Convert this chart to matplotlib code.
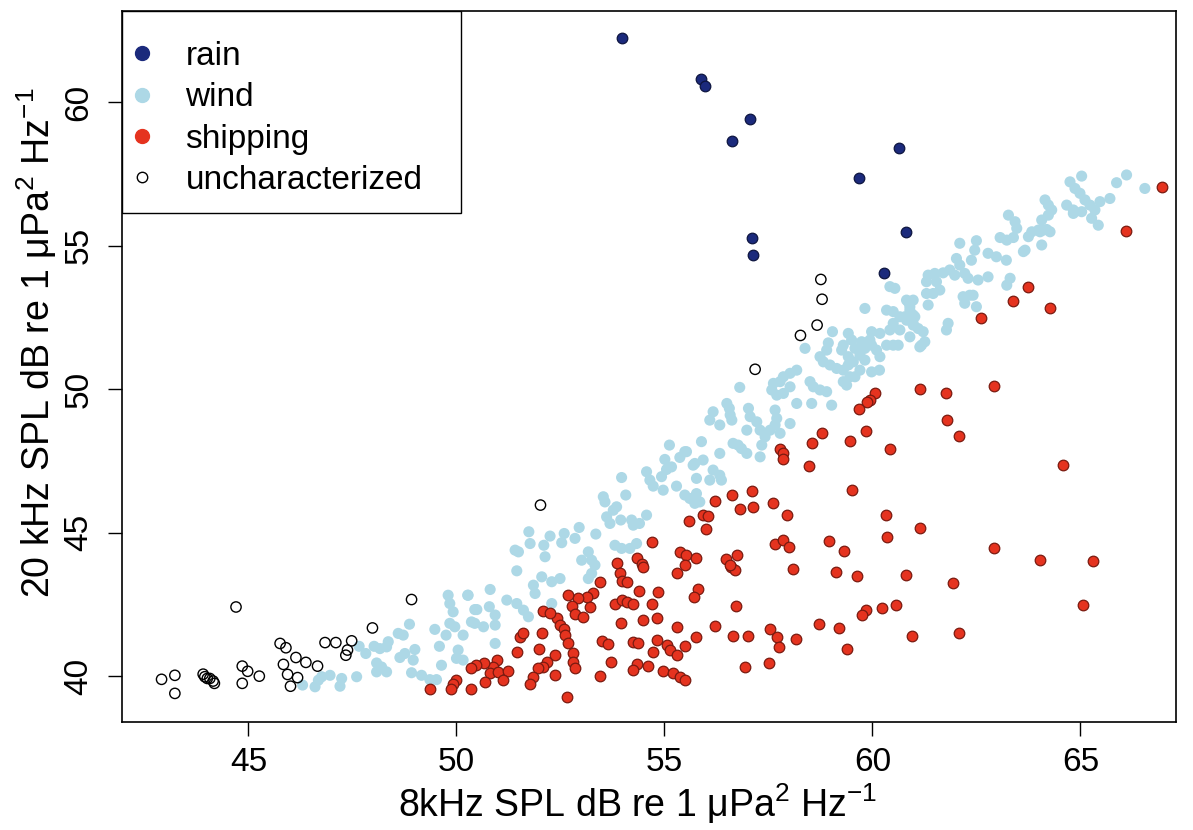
import matplotlib
matplotlib.use("Agg")
import matplotlib.pyplot as plt
from matplotlib.lines import Line2D
from matplotlib.patches import Rectangle

plt.rcParams["font.family"] = ["Liberation Sans", "DejaVu Sans"]
plt.rcParams["mathtext.fontset"] = "custom"
plt.rcParams["mathtext.rm"] = "Liberation Sans"
plt.rcParams["mathtext.it"] = "Liberation Sans"


# 8 kHz / 20 kHz spectrum levels (dB re 1 uPa^2/Hz), grouped by source
rain_8k = [53.98, 55.89, 55.97, 57.06, 56.62, 59.68, 60.64, 57.10, 57.14, 60.28, 60.81]
rain_20k = [62.23, 60.79, 60.57, 59.40, 58.64, 57.34, 58.40, 55.26, 54.66, 54.05, 55.46]

wind_8k = [
    46.30, 46.60, 46.68, 46.76, 46.96, 47.20, 47.24, 47.60, 47.66, 47.82,
    48.02, 48.16, 48.36, 48.32, 48.08, 48.20, 48.32, 48.08, 48.60, 48.72,
    48.64, 48.76, 48.87, 49.00, 48.96, 48.92, 49.16, 49.36, 49.52, 49.48,
    49.59, 49.64, 49.75, 49.80, 49.84, 49.92, 49.84, 49.96, 50.04, 50.00,
    50.16, 50.16, 50.27, 50.44, 50.44, 50.93,
    55.12, 55.37, 55.53, 55.01, 55.17, 55.05, 55.73, 55.77, 54.57, 54.65,
    54.73, 54.93, 54.97, 55.29, 55.49, 55.61, 55.77, 55.73, 53.97, 54.07,
    53.53, 53.57, 53.85, 53.77, 53.61, 53.69, 53.95, 54.21, 54.25, 54.40,
    54.57, 53.81, 53.97, 54.17, 54.33, 53.35, 52.95, 52.59, 52.53, 52.85,
    53.01, 53.17, 53.25, 53.33, 53.25, 53.17, 52.25, 52.10, 52.13, 51.74,
    51.77, 51.41, 51.49, 51.45, 52.05, 52.29, 52.49, 51.85, 51.89, 52.29,
    51.21, 51.45, 51.61, 51.73, 50.81, 50.79, 50.93, 50.49, 50.28, 50.36,
    50.65, 50.93,
    60.42, 60.54, 59.82, 60.34, 60.50, 60.66, 60.82, 60.98, 60.90, 60.82,
    60.98, 61.10, 60.50, 60.42, 60.66, 60.18, 59.98, 59.94, 59.98, 60.10,
    60.18, 60.17, 59.98, 60.34, 60.50, 60.62, 61.18, 59.42, 59.50, 59.74,
    59.82, 59.58, 59.70, 59.82, 59.54, 59.42, 59.42, 59.30, 59.46, 59.58,
    59.70, 59.30, 59.26, 59.04, 58.94, 58.90, 58.74, 58.82, 58.98, 59.14,
    59.30, 59.38, 58.38, 58.18, 58.02, 57.86, 57.78, 57.62, 57.58, 57.70,
    57.86, 58.02, 58.18, 58.54, 58.50, 58.58, 58.74, 58.90, 59.02, 56.81,
    56.50, 56.56, 56.58, 56.62, 56.17, 56.09, 56.33, 57.02, 57.06, 57.22,
    57.30, 56.98, 57.66, 57.70, 57.66, 57.54, 57.78, 58.02, 55.89, 55.49,
    55.93, 55.69, 56.33, 56.65, 56.77, 56.85, 56.98, 57.42, 57.34, 57.30,
    56.17, 56.33, 55.85, 56.09, 56.37,
    65.03, 64.75, 64.87, 64.99, 65.11, 65.23, 65.35, 65.47, 65.71, 64.67,
    64.83, 64.83, 65.03, 65.27, 65.43, 65.87, 66.11, 66.55, 64.15, 64.23,
    64.31, 64.23, 64.07, 64.11, 64.19, 64.03, 64.27, 63.27, 63.43, 63.47,
    63.39, 63.07, 63.23, 63.83, 63.75, 63.99, 64.07, 63.63, 63.67, 62.78,
    62.98, 63.22, 62.10, 62.50, 62.46, 62.38, 62.02, 62.10, 62.22, 62.30,
    61.98, 61.86, 61.70, 61.50, 61.34, 61.30, 61.54, 61.62, 61.46, 61.30,
    61.34, 62.78, 62.54, 62.34, 62.42, 62.18, 62.22, 62.50, 63.31, 63.23,
    61.78, 61.82, 60.98, 60.86, 60.90, 60.78, 61.02, 60.98, 61.22, 61.26,
    61.14, 60.90,
]
wind_20k = [
    39.69, 39.63, 39.86, 39.98, 40.03, 39.65, 39.92, 39.98, 41.04, 40.79,
    41.04, 40.96, 41.20, 41.02, 40.46, 40.32, 40.15, 40.15, 41.49, 41.43,
    40.65, 40.79, 41.81, 40.93, 40.56, 40.12, 40.03, 39.88, 39.88, 41.63,
    41.04, 40.38, 41.43, 42.82, 42.53, 42.24, 41.84, 41.72, 40.91, 40.62,
    40.56, 41.43, 42.82, 42.32, 41.84, 41.14,
    48.05, 47.62, 47.82, 47.55, 47.29, 47.20, 47.41, 46.89, 47.12, 46.83,
    46.62, 46.95, 46.48, 46.62, 46.31, 46.19, 46.36, 46.02, 46.92, 46.31,
    46.25, 46.07, 45.90, 45.78, 45.55, 45.32, 45.44, 45.44, 45.26, 45.32,
    45.61, 44.56, 44.45, 44.45, 44.62, 44.95, 45.18, 44.97, 44.65, 44.80,
    44.04, 44.33, 44.04, 43.87, 43.58, 43.40, 44.88, 44.56, 44.16, 45.03,
    44.62, 44.39, 44.33, 43.67, 43.46, 43.29, 43.40, 43.17, 42.88, 42.53,
    42.65, 42.53, 42.30, 42.07, 43.02, 42.42, 42.13, 42.32, 42.82, 41.89,
    41.72, 41.78,
    53.57, 53.51, 52.81, 52.75, 52.70, 52.52, 52.40, 52.58, 52.87, 53.10,
    52.29, 52.11, 52.29, 52.06, 52.06, 51.94, 52.00, 51.71, 51.53, 51.36,
    51.13, 50.66, 50.60, 51.53, 51.53, 51.53, 51.53, 51.94, 51.71, 51.65,
    51.42, 51.42, 51.18, 51.01, 50.95, 51.13, 50.84, 50.66, 50.43, 50.43,
    50.66, 51.53, 51.36, 52.00, 51.61, 51.36, 51.13, 50.95, 50.84, 50.72,
    50.26, 50.14, 51.42, 50.66, 50.55, 50.43, 50.26, 50.20, 49.97, 49.79,
    49.85, 50.08, 49.50, 49.50, 50.26, 50.08, 49.97, 49.91, 49.44, 50.06,
    49.50, 49.33, 49.10, 48.92, 49.21, 48.92, 48.75, 49.33, 49.04, 48.86,
    48.57, 48.57, 49.27, 48.98, 48.75, 48.57, 48.46, 48.80, 48.17, 47.82,
    47.53, 47.35, 47.76, 48.11, 48.05, 47.93, 47.76, 48.34, 48.05, 47.64,
    47.18, 47.00, 46.07, 46.83, 46.83,
    57.42, 57.22, 56.99, 56.82, 56.59, 56.41, 56.24, 56.53, 56.64, 56.41,
    56.24, 56.12, 56.18, 55.95, 55.71, 57.19, 57.46, 56.99, 56.59, 56.41,
    56.24, 56.06, 55.89, 55.54, 55.56, 55.48, 55.48, 56.06, 55.83, 55.60,
    55.28, 55.28, 55.19, 55.48, 55.31, 55.54, 55.02, 54.79, 54.84, 54.73,
    54.61, 54.49, 55.08, 55.17, 54.84, 54.49, 54.55, 54.32, 54.03, 53.86,
    53.97, 54.15, 54.05, 54.03, 53.97, 53.74, 53.74, 53.45, 53.33, 53.33,
    52.93, 53.91, 53.80, 53.27, 53.27, 53.22, 52.99, 52.87, 53.86, 53.62,
    52.06, 52.29, 53.10, 53.04, 52.75, 52.52, 52.52, 52.23, 52.00, 51.65,
    51.47, 51.82,
]

ship_8k = [
    56.21, 56.63, 55.60, 55.93, 56.05, 56.01, 54.71, 55.37, 55.53, 55.77,
    55.49, 55.31, 56.49, 56.61, 56.69, 54.33, 54.45, 54.49, 53.87, 53.93,
    53.99, 54.09, 53.45, 53.29, 53.13, 52.93, 52.69, 52.77, 52.85, 53.05,
    53.21, 53.81, 53.97, 54.09, 54.25, 54.40, 54.85, 54.69, 53.95, 54.49,
    54.81, 55.31, 55.77, 56.21, 56.65, 56.73, 55.81, 55.71, 53.51, 53.65,
    53.71, 53.45, 54.25, 54.37, 54.33, 54.24, 54.61, 54.73, 54.81, 55.05,
    55.13, 55.29, 55.49, 54.97, 55.21, 55.37, 55.49, 52.42, 52.49, 52.58,
    52.61, 52.69, 52.81, 52.81, 52.85, 52.09, 52.25, 52.05, 52.37, 51.99,
    51.53, 51.61, 51.45, 52.17, 52.09, 51.97, 52.37, 51.85, 51.77, 52.65,
    50.97, 50.89, 50.81, 51.01, 51.25, 51.13, 50.65, 50.48, 50.36, 50.69,
    50.36, 50.00, 49.92, 49.88, 49.36,
    62.09, 64.59, 60.42, 59.47, 59.84, 58.78, 58.55, 57.78, 57.86, 57.86,
    58.47, 59.50, 57.10, 56.82, 57.14, 57.62, 57.95, 60.32, 60.36, 61.14,
    62.93, 64.03, 65.31, 65.07, 61.94, 62.09, 60.95, 60.81, 60.56, 60.22,
    59.84, 59.76, 59.64, 59.12, 59.32, 58.95, 58.10, 57.66, 57.86, 58.00,
    56.75, 56.57, 57.00, 57.54, 57.70, 57.75, 58.16, 58.71, 59.20, 59.40,
    56.94, 57.51,
    66.95, 66.09, 63.73, 63.39, 64.27, 62.62, 61.14, 61.77, 62.93, 61.80,
    60.06, 59.94, 59.86, 59.68,
]
ship_20k = [
    46.11, 46.31, 45.41, 45.61, 45.57, 45.11, 44.66, 44.33, 44.22, 44.13,
    43.87, 43.58, 44.08, 43.81, 43.69, 44.13, 43.90, 43.79, 43.93, 43.58,
    43.32, 43.29, 43.29, 42.88, 42.76, 42.74, 42.82, 42.44, 42.18, 42.07,
    42.42, 42.53, 42.65, 42.59, 42.53, 42.96, 42.94, 42.53, 41.86, 41.95,
    42.04, 41.72, 41.37, 41.74, 41.39, 42.44, 43.05, 42.76, 41.22, 41.11,
    40.50, 40.00, 41.20, 41.14, 40.44, 40.21, 40.35, 40.85, 41.25, 41.08,
    40.90, 40.73, 41.05, 40.19, 40.12, 39.98, 39.86, 42.01, 41.78, 41.66,
    41.43, 41.14, 40.79, 40.50, 40.27, 42.28, 42.21, 41.49, 40.73, 40.93,
    41.35, 41.49, 40.85, 40.50, 40.33, 40.27, 40.03, 39.98, 39.74, 39.28,
    40.56, 40.33, 40.12, 40.15, 40.19, 39.86, 40.46, 40.38, 40.27, 39.80,
    39.57, 39.88, 39.72, 39.54, 39.54,
    48.36, 47.35, 47.90, 48.20, 48.55, 48.48, 48.11, 47.93, 47.76, 47.55,
    47.32, 46.50, 46.46, 45.81, 45.90, 46.02, 45.61, 45.61, 44.85, 45.17,
    44.47, 44.06, 44.02, 42.47, 43.26, 41.49, 41.39, 43.52, 42.47, 42.38,
    42.30, 42.12, 43.48, 43.64, 44.37, 44.71, 43.72, 44.62, 44.76, 44.51,
    44.21, 43.87, 41.39, 41.64, 41.37, 41.02, 41.31, 41.83, 41.68, 40.94,
    40.33, 40.47,
    57.03, 55.52, 53.56, 53.08, 52.83, 52.48, 50.02, 49.85, 50.12, 48.94,
    49.88, 49.61, 49.56, 49.29,
]

uncharacterized_8k = [
    42.91, 43.23, 43.23, 43.91, 43.95, 44.01, 44.07, 44.15, 44.18, 44.70,
    44.85, 44.85, 44.98, 45.26, 45.76, 45.90, 45.84, 45.94, 46.01, 46.18,
    46.14, 46.38, 46.66, 46.84, 47.10, 47.48, 47.38, 47.34, 47.98, 48.92,
    52.02, 57.18, 58.27, 58.67, 58.79, 58.76,
]
uncharacterized_20k = [
    39.89, 40.03, 39.40, 40.07, 39.98, 39.92, 39.92, 39.83, 39.75, 42.41,
    40.35, 39.75, 40.17, 40.00, 41.14, 40.99, 40.41, 40.06, 39.65, 39.95,
    40.65, 40.48, 40.35, 41.17, 41.17, 41.23, 40.91, 40.73, 41.68, 42.67,
    45.96, 50.69, 51.87, 52.23, 53.13, 53.82,
]

RAIN = "#1b2a7c"
WIND = "#add8e6"
SHIP = "#e5331f"


def plot_spl():
    fig = plt.figure(figsize=(11.93, 8.30), dpi=100)
    ax = fig.add_axes([0.1023, 0.130, 0.8835, 0.8567])

    ax.scatter(wind_8k, wind_20k, s=64, c=WIND, edgecolors="none", zorder=2)
    ax.scatter(ship_8k, ship_20k, s=58, c=SHIP, edgecolors="#7a1a10",
               linewidths=0.9, zorder=3)
    ax.scatter(rain_8k, rain_20k, s=58, c=RAIN, edgecolors="#0d1540",
               linewidths=0.9, zorder=4)
    ax.scatter(uncharacterized_8k, uncharacterized_20k, s=55, facecolors="none",
               edgecolors="black", linewidths=1.0, zorder=5)

    ax.set_xlim(41.96, 67.30)
    ax.set_ylim(38.40, 63.17)
    ax.set_xticks([45, 50, 55, 60, 65])
    ax.set_yticks([40, 45, 50, 55, 60])
    ax.tick_params(direction="out", length=10, width=1.0, labelsize=24, pad=8)
    ax.tick_params(axis="y", pad=10)
    for lab in ax.get_yticklabels():
        lab.set_rotation(90)
        lab.set_va("center")
    for sp in ax.spines.values():
        sp.set_linewidth(1.2)

    ax.set_xlabel("8kHz SPL dB re 1 μPa$^2$ Hz$^{-1}$", fontsize=27)
    ax.set_ylabel("20 kHz SPL dB re 1 μPa$^2$ Hz$^{-1}$", fontsize=27)
    ax.xaxis.set_label_coords(0.4896, -0.084)
    ax.yaxis.set_label_coords(-0.060, 0.534)

    # legend box drawn separately so the entries can sit lower inside it
    ax.add_patch(Rectangle((0, 1 - 0.284), 0.322, 0.284, transform=ax.transAxes,
                           facecolor="white", edgecolor="black", lw=1.0, zorder=9))
    handles = [
        Line2D([], [], ls="none", marker="o", ms=10, mfc=RAIN, mec=RAIN),
        Line2D([], [], ls="none", marker="o", ms=10, mfc=WIND, mec=WIND),
        Line2D([], [], ls="none", marker="o", ms=10, mfc=SHIP, mec=SHIP),
        Line2D([], [], ls="none", marker="o", ms=7.5, mfc="none", mec="black", mew=1.0),
    ]
    leg = ax.legend(handles, ["rain", "wind", "shipping", "uncharacterized"],
                    loc="upper left", bbox_to_anchor=(0, 0.972), borderaxespad=0,
                    fontsize=24, frameon=False,
                    handlelength=0.6, handletextpad=1.0, labelspacing=0.31,
                    borderpad=0.3)
    leg.set_zorder(10)

    fig.savefig("out.png", dpi=100)


if __name__ == "__main__":
    plot_spl()
